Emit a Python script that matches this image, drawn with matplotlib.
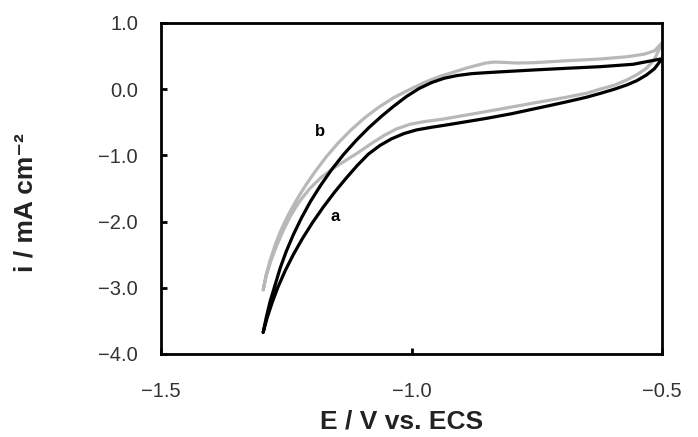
import matplotlib
matplotlib.use("Agg")
import matplotlib.pyplot as plt

plt.rcParams['font.family'] = ['Liberation Sans', 'DejaVu Sans']

# Curve a (black): cathodic branch (lower) and return branch (upper)
a_low_E = [-1.296, -1.288, -1.278, -1.266, -1.252, -1.236, -1.218, -1.198, -1.176, -1.153,
           -1.130, -1.108, -1.086, -1.063, -1.040, -1.015, -0.990, -0.960, -0.930, -0.890,
           -0.850, -0.800, -0.757, -0.720, -0.690, -0.650, -0.624, -0.595, -0.570, -0.550,
           -0.531, -0.515, -0.500]
a_low_i = [-3.67, -3.45, -3.22, -2.98, -2.74, -2.50, -2.26, -2.02, -1.78, -1.55,
           -1.34, -1.15, -0.98, -0.85, -0.75, -0.67, -0.615, -0.575, -0.540, -0.49,
           -0.44, -0.37, -0.30, -0.24, -0.19, -0.12, -0.065, 0.0, 0.065, 0.13,
           0.215, 0.31, 0.46]
a_up_E = [-1.296, -1.290, -1.282, -1.272, -1.262, -1.250, -1.236, -1.220, -1.202, -1.182,
          -1.160, -1.136, -1.110, -1.085, -1.060, -1.036, -1.010, -0.985, -0.960, -0.935,
          -0.910, -0.880, -0.850, -0.823, -0.757, -0.690, -0.624, -0.558, -0.500]
a_up_i = [-3.67, -3.45, -3.20, -2.95, -2.70, -2.45, -2.20, -1.95, -1.70, -1.46,
          -1.22, -0.99, -0.77, -0.58, -0.41, -0.26, -0.11, 0.01, 0.10, 0.165,
          0.205, 0.235, 0.250, 0.262, 0.290, 0.316, 0.340, 0.376, 0.46]

# Curve b (gray)
b_low_E = [-1.296, -1.290, -1.281, -1.270, -1.257, -1.242, -1.224, -1.203, -1.180, -1.155,
           -1.130, -1.105, -1.080, -1.055, -1.030, -1.003, -0.975, -0.940, -0.890, -0.823,
           -0.757, -0.690, -0.650, -0.624, -0.595, -0.570, -0.550, -0.531, -0.515, -0.500]
b_low_i = [-3.03, -2.82, -2.60, -2.38, -2.15, -1.92, -1.70, -1.50, -1.33, -1.19,
           -1.07, -0.95, -0.82, -0.70, -0.60, -0.53, -0.49, -0.455, -0.39, -0.30,
           -0.21, -0.12, -0.06, 0.0, 0.06, 0.14, 0.22, 0.316, 0.45, 0.70]
b_up_E = [-1.296, -1.290, -1.282, -1.272, -1.260, -1.246, -1.230, -1.212, -1.192, -1.170,
          -1.146, -1.120, -1.093, -1.065, -1.036, -1.005, -0.975, -0.945, -0.915, -0.890,
          -0.870, -0.852, -0.835, -0.815, -0.790, -0.757, -0.690, -0.624, -0.570, -0.535,
          -0.515, -0.500]
b_up_i = [-3.03, -2.80, -2.58, -2.35, -2.12, -1.90, -1.68, -1.46, -1.24, -1.02,
          -0.81, -0.61, -0.43, -0.27, -0.13, -0.01, 0.10, 0.19, 0.26, 0.32,
          0.36, 0.395, 0.41, 0.405, 0.395, 0.40, 0.43, 0.456, 0.49, 0.53,
          0.58, 0.70]

x_ticks = [-1.5, -1.0, -0.5]
y_ticks = [1.0, 0.0, -1.0, -2.0, -3.0, -4.0]

W, H = 698, 437
fig = plt.figure(figsize=(W / 100, H / 100), dpi=100)
ax = fig.add_axes([161 / W, 1 - 354 / H, (662 - 161) / W, (354 - 23) / H])

gray = '#b8b8b8'
for E_lo, i_lo, E_up, i_up, col in [(b_low_E, b_low_i, b_up_E, b_up_i, gray),
                                     (a_low_E, a_low_i, a_up_E, a_up_i, 'black')]:
    E = list(E_lo) + list(E_up[::-1])
    I = list(i_lo) + list(i_up[::-1])
    ax.plot(E, I, color=col, lw=2.3, solid_capstyle='round', solid_joinstyle='round')

ax.text(-1.153, -1.93, 'a', fontsize=12, fontweight='bold', ha='center', va='center')
ax.text(-1.183, -0.646, 'b', fontsize=12, fontweight='bold', ha='center', va='center')

ax.set_xlim(-1.5, -0.5)
ax.set_ylim(-4.0, 1.0)
ax.set_xticks(x_ticks)
ax.set_xticklabels([f"{v:.1f}".replace('-', '\u2212') for v in x_ticks])
ax.set_yticks(y_ticks)
ax.set_yticklabels([f"{v:.1f}".replace('-', '\u2212') for v in y_ticks])

for s in ax.spines.values():
    s.set_linewidth(2.0)
ax.tick_params(axis='both', direction='in', length=4.5, width=2, labelsize=14.5,
               labelcolor='#333333')
ax.tick_params(axis='y', pad=16.5)
ax.tick_params(axis='x', pad=20)

ax.set_xlabel('E / V vs. ECS', fontsize=19, fontweight='bold', color='#222222')
ax.set_ylabel('i / mA cm\u207b\u00b2', fontsize=19, fontweight='bold', color='#222222')
ax.xaxis.set_label_coords(0.481, -0.205)
ax.yaxis.set_label_coords(-0.271, 0.456)
for lab in [ax.xaxis.label, ax.yaxis.label]:
    lab.set_va('center')
    lab.set_ha('center')

fig.savefig('out.png', dpi=100)
